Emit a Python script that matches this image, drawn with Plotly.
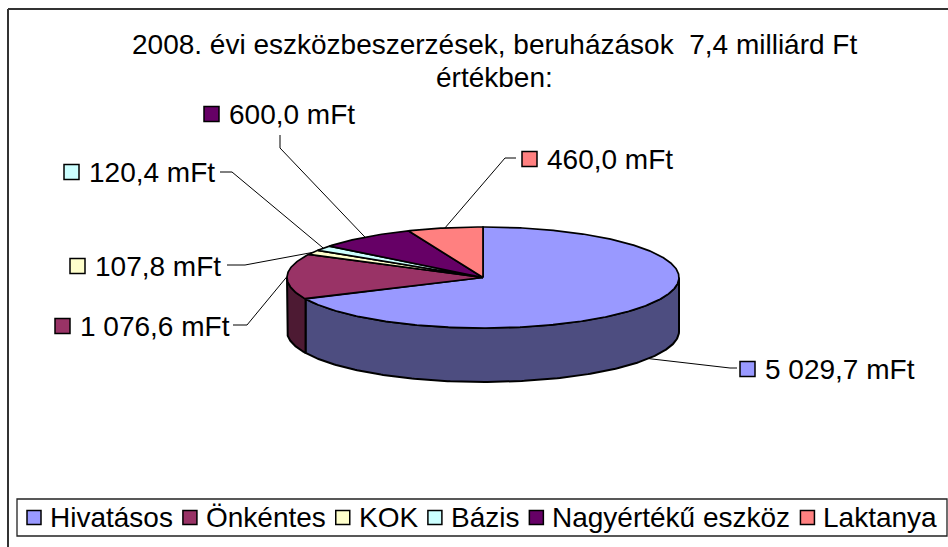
import numpy as np
import plotly.graph_objects as go

# ---- data ----
categories = ["Hivatásos", "Önkéntes", "KOK", "Bázis", "Nagyértékű eszköz", "Laktanya"]
values = [5029.7, 1076.6, 107.8, 120.4, 600.0, 460.0]
unit = "mFt"
title_line1 = "2008. évi eszközbeszerzések, beruházások  7,4 milliárd Ft"
title_line2 = "értékben:"

# ---- style ----
top_colors = ["#9999FF", "#993366", "#FFFFCC", "#CCFFFF", "#660066", "#FF8080"]
side_colors = ["#4D4D80", "#4D1A33", "#80806A", "#6A8080", "#330033", "#804040"]
FONT = "Liberation Sans, Arial, sans-serif"
FS = 28
W, H = 948, 547

# pie geometry (pixel space)
CX, CY, RX, RY, DEPTH = 483, 277.5, 196, 50.5, 54

# label layout: (square left x, centre y, attach point, elbow point)
label_layout = [
    (740, 369, (737, 368), (730, 368)),
    (55, 326, (233, 325), (247, 325)),
    (70, 266, (227, 265), (245, 265)),
    (64, 172, (220, 172), (232, 172)),
    (204, 114, (280, 135), (280, 148)),
    (522, 159, (516, 158), (505, 158)),
]

AW = {' ': 278, ',': 278, '.': 278, ':': 278, 'A': 667, 'B': 667, 'F': 611, 'H': 722,
      'K': 667, 'L': 556, 'N': 722, 'O': 778, 'Ö': 778, 'a': 556, 'á': 556, 'b': 556,
      'd': 556, 'e': 556, 'é': 556, 'g': 556, 'h': 556, 'i': 222, 'k': 500, 'l': 222,
      'm': 833, 'n': 556, 'o': 556, 'ö': 556, 'r': 333, 's': 500, 't': 278, 'u': 556,
      'ű': 556, 'v': 500, 'y': 500, 'z': 500}


def text_w(s, fs):
    return sum(AW.get(c, 556) for c in s) / 1000 * fs


def fmt(v):
    s = f"{v:,.1f}"
    return s.replace(",", " ").replace(".", ",") + " " + unit


def pt(theta_deg, dy=0.0):
    t = np.radians(theta_deg)
    return CX + RX * np.sin(t), CY - RY * np.cos(t) + dy


total = sum(values)
starts, ends = [], []
acc = 0.0
for v in values:
    starts.append(acc / total * 360)
    acc += v
    ends.append(acc / total * 360)

fig = go.Figure()

# side walls (front half only: 90..270 deg)
for i in range(len(values)):
    a, b = max(starts[i], 90), min(ends[i], 270)
    if a >= b:
        continue
    th = np.linspace(a, b, 200)
    xs_t, ys_t = pt(th)
    xs_b, ys_b = pt(th[::-1], DEPTH)
    xs = np.concatenate([xs_t, xs_b, xs_t[:1]])
    ys = np.concatenate([ys_t, ys_b, ys_t[:1]])
    fig.add_trace(go.Scatter(x=xs, y=ys, mode="lines", fill="toself",
                             fillcolor=side_colors[i], line=dict(color="black", width=2),
                             hoverinfo="skip", showlegend=False))

# top faces
for i in range(len(values)):
    n = max(int((ends[i] - starts[i]) * 2), 4)
    th = np.linspace(starts[i], ends[i], n)
    xa, ya = pt(th)
    xs = np.concatenate([[CX], xa, [CX]])
    ys = np.concatenate([[CY], ya, [CY]])
    fig.add_trace(go.Scatter(x=xs, y=ys, mode="lines", fill="toself",
                             fillcolor=top_colors[i], line=dict(color="black", width=1.7),
                             hoverinfo="text", text=f"{categories[i]}: {fmt(values[i])}",
                             showlegend=False))

shapes = []
annotations = []
SQ = 15

# data labels with leader lines
for i, (sx, sy, att, elb) in enumerate(label_layout):
    mid = (starts[i] + ends[i]) / 2
    dy = DEPTH if 90 < mid < 270 else 0
    px, py = pt(mid, dy)
    fig.add_trace(go.Scatter(x=[att[0], elb[0], px], y=[att[1], elb[1], py], mode="lines",
                             line=dict(color="black", width=1), hoverinfo="skip",
                             showlegend=False))
    shapes.append(dict(type="rect", xref="x", yref="y", x0=sx, x1=sx + SQ,
                       y0=sy - SQ / 2, y1=sy + SQ / 2, fillcolor=top_colors[i],
                       line=dict(color="black", width=1.5)))
    annotations.append(dict(x=sx + SQ + 8, y=sy, xref="x", yref="y", text=fmt(values[i]),
                            showarrow=False, xanchor="left", yanchor="middle",
                            font=dict(family=FONT, size=FS, color="black")))

# title
annotations.append(dict(x=494, y=44, xref="x", yref="y", text=title_line1, showarrow=False,
                        xanchor="center", yanchor="middle",
                        font=dict(family=FONT, size=FS, color="black")))
annotations.append(dict(x=494, y=77, xref="x", yref="y", text=title_line2, showarrow=False,
                        xanchor="center", yanchor="middle",
                        font=dict(family=FONT, size=FS, color="black")))

# outer frame (left & top edges visible)
shapes.append(dict(type="line", xref="x", yref="y", x0=8, x1=8, y0=9, y1=H + 5,
                   line=dict(color="#333333", width=2)))
shapes.append(dict(type="line", xref="x", yref="y", x0=8, x1=W + 5, y0=9, y1=9,
                   line=dict(color="#333333", width=2)))

# legend box
LX0, LX1, LY0, LY1 = 17, 947, 499, 536
shapes.append(dict(type="rect", xref="x", yref="y", x0=LX0, x1=LX1, y0=LY0, y1=LY1,
                   line=dict(color="#222222", width=1.3), fillcolor="rgba(0,0,0,0)"))
lsq = 14
x = 27
ly = (LY0 + LY1) / 2
for i, c in enumerate(categories):
    shapes.append(dict(type="rect", xref="x", yref="y", x0=x, x1=x + lsq,
                       y0=ly - lsq / 2, y1=ly + lsq / 2, fillcolor=top_colors[i],
                       line=dict(color="black", width=1.5)))
    tx = x + lsq + 7
    annotations.append(dict(x=tx, y=ly, xref="x", yref="y", text=c, showarrow=False,
                            xanchor="left", yanchor="middle",
                            font=dict(family=FONT, size=FS, color="black")))
    x = tx + text_w(c, FS) + 12

fig.update_layout(
    width=W, height=H, margin=dict(l=0, r=0, t=0, b=0),
    paper_bgcolor="white", plot_bgcolor="white",
    xaxis=dict(range=[0, W], visible=False, fixedrange=True),
    yaxis=dict(range=[H, 0], visible=False, fixedrange=True),
    shapes=shapes, annotations=annotations, showlegend=False,
)

fig.write_html("out.html", config={"displayModeBar": False},
               post_script="document.body.style.margin='0';document.body.style.overflow='hidden';")
